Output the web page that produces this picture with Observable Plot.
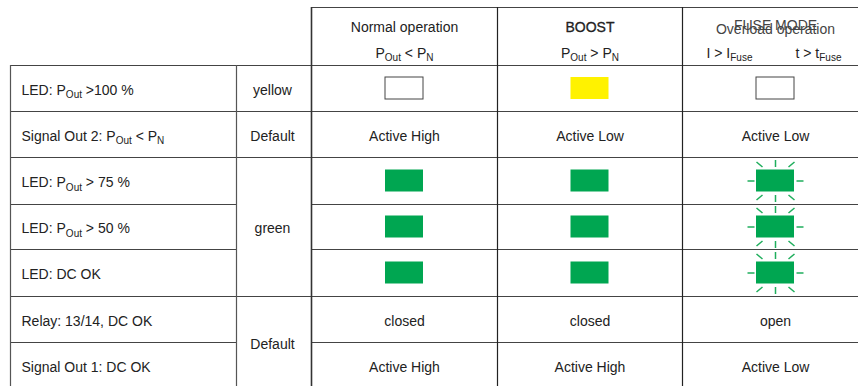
<!DOCTYPE html>
<html>
<head>
<meta charset="utf-8">
<script src="https://cdn.jsdelivr.net/npm/d3@7"></script>
<script src="https://cdn.jsdelivr.net/npm/@observablehq/plot@0.6"></script>
<style>
  html, body { margin: 0; padding: 0; background: #fff; }
  #chart svg { display: block; }
</style>
</head>
<body>
<div id="chart"></div>
<script>
// ---------- data ----------
const rowLabels = [
  "LED: P_{Out} >100 %",
  "Signal Out 2: P_{Out} < P_{N}",
  "LED: P_{Out} > 75 %",
  "LED: P_{Out} > 50 %",
  "LED: DC OK",
  "Relay: 13/14, DC OK",
  "Signal Out 1: DC OK"
];
const groupNames = ["yellow", "Default", "green", "Default"];
const groupStart = [0, 1, 2, 5];
const groupEnd = [0, 1, 4, 6];

const modes = ["Normal operation", "BOOST", "FUSE MODE"];
const modeConditions = ["P_{Out} < P_{N}", "P_{Out} > P_{N}"];
const fuseConditions = ["I > I_{Fuse}", "t > t_{Fuse}"];
const overloadLabel = "Overload operation";

const normalStates = ["off", "Active High", "green", "green", "green", "closed", "Active High"];
const boostStates  = ["yellow", "Active Low", "green", "green", "green", "closed", "Active High"];
const fuseStates   = ["off", "Active Low", "blink", "blink", "blink", "open", "Active Low"];

// ---------- layout (code, not data) ----------
const colEdges = [10, 236, 311, 497, 682, 868];          // label | colour | 3 modes
const rowEdges = [65, 111, 157, 204, 249, 296, 342, 388]; // body rows
const headTop = 7;
const cx = c => (colEdges[c] + colEdges[c + 1]) / 2;
const cy = r => (rowEdges[r] + rowEdges[r + 1]) / 2;
const BW = 19, BH = 11; // LED half sizes

// ---------- derived tables ----------
const stateCols = [normalStates, boostStates, fuseStates];
const cells = stateCols.flatMap((col, j) => col.map((s, i) => ({col: j + 2, row: i, state: s})));
const ledStates = new Set(["off", "yellow", "green", "blink"]);
const textCells = cells.filter(d => !ledStates.has(d.state));
const ledCells = cells.filter(d => ledStates.has(d.state));

const rayOffsets = [
  [0, -21, 0, -14], [0, 14, 0, 21], [-28, 0, -21, 0], [21, 0, 28, 0],
  [-19, -19, -13, -14], [13, -14, 19, -19], [-13, 14, -19, 19], [13, 14, 19, 19]
];
const rays = cells.filter(d => d.state === "blink")
  .flatMap(d => rayOffsets.map(o => ({
    x1: cx(d.col) + o[0], y1: cy(d.row) + o[1],
    x2: cx(d.col) + o[2], y2: cy(d.row) + o[3]
  })));

const nRows = rowLabels.length;
const vLines = [
  {x: colEdges[0], y1: rowEdges[0], w: 1.2, c: "#555"},
  {x: colEdges[1], y1: rowEdges[0], w: 1.2, c: "#555"},
  {x: colEdges[2], y1: headTop, w: 1.6, c: "#333"},
  {x: colEdges[3], y1: headTop, w: 1.2, c: "#222"},
  {x: colEdges[4], y1: headTop, w: 1.2, c: "#222"}
];
const hLines = [{y: headTop, x1: colEdges[2], x2: colEdges[5]}];
for (let r = 0; r < nRows; r++) {
  const inside = groupStart.some((s, g) => r > s && r <= groupEnd[g]);
  if (inside) {
    hLines.push({y: rowEdges[r], x1: colEdges[0], x2: colEdges[1]});
    hLines.push({y: rowEdges[r], x1: colEdges[2], x2: colEdges[5]});
  } else hLines.push({y: rowEdges[r], x1: colEdges[0], x2: colEdges[5]});
}

const FONT = "'Liberation Sans', Arial, Helvetica, sans-serif";
const TXT = "#222";
const GREEN = "#00a651";
const headY1 = 27, headY2 = 53;

const chart = Plot.plot({
  width: 858,
  height: 386,
  margin: 0,
  x: {domain: [0, 858], range: [0, 858], axis: null},
  y: {domain: [0, 386], range: [0, 386], axis: null},
  style: {fontFamily: FONT, fontSize: "14px", background: "#fff", overflow: "hidden"},
  marks: [
    Plot.rect(ledCells, {
      x1: d => cx(d.col) - BW, x2: d => cx(d.col) + BW,
      y1: d => cy(d.row) - BH, y2: d => cy(d.row) + BH,
      fill: d => d.state === "off" ? "#fff" : d.state === "yellow" ? "#fff200" : GREEN,
      stroke: d => d.state === "off" ? "#444" : "none",
      strokeWidth: 1
    }),
    Plot.link(rays, {x1: "x1", y1: "y1", x2: "x2", y2: "y2", stroke: "#1fae5c", strokeWidth: 1.5}),
    Plot.ruleY(hLines, {y: "y", x1: "x1", x2: "x2", stroke: "#444", strokeWidth: 1.2}),
    Plot.ruleX(vLines, {x: "x", y1: "y1", y2: rowEdges[nRows], stroke: d => d.c, strokeWidth: d => d.w}),
    Plot.text(rowLabels, {x: colEdges[0] + 11, y: (d, i) => cy(i), text: d => d, textAnchor: "start", fontSize: 14, fill: TXT, dy: 2}),
    Plot.text(groupNames, {x: cx(1) - 1.5, y: (d, i) => (rowEdges[groupStart[i]] + rowEdges[groupEnd[i] + 1]) / 2, text: d => d, fontSize: 14, fill: TXT, dy: 2}),
    Plot.text(textCells, {x: d => cx(d.col), y: d => cy(d.row), text: "state", fontSize: 14, fill: TXT, dy: 2}),
    Plot.text(modes.slice(0, 2), {x: (d, i) => cx(i + 2), y: headY1, text: d => d, fontSize: 14, fill: TXT,
      stroke: (d, i) => i === 1 ? TXT : "none", strokeWidth: 0.3}),
    Plot.text([modes[2]], {x: cx(4), y: headY1 - 2, text: d => d, fontSize: 14, fill: "#444"}),
    Plot.text([overloadLabel], {x: cx(4), y: headY1 + 2, text: d => d, fontSize: 14, fill: "#444"}),
    Plot.text(modeConditions, {x: (d, i) => cx(i + 2), y: headY2, text: d => d, fontSize: 14, fill: TXT}),
    Plot.text(fuseConditions, {x: (d, i) => [729, 818][i], y: headY2, text: d => d, fontSize: 14, fill: TXT})
  ]
});

// render "_{...}" as real subscripts
const NS = "http://www.w3.org/2000/svg";
chart.querySelectorAll("text").forEach(t => {
  const s = t.textContent;
  if (!s.includes("_{")) return;
  while (t.firstChild) t.removeChild(t.firstChild);
  const re = /_\{([^}]*)\}/g;
  let last = 0, m, shifted = false;
  const addNormal = str => {
    const ts = document.createElementNS(NS, "tspan");
    ts.textContent = str;
    if (shifted) { ts.setAttribute("dy", "-3.5"); shifted = false; }
    t.appendChild(ts);
  };
  while ((m = re.exec(s))) {
    if (m.index > last) addNormal(s.slice(last, m.index));
    const sub = document.createElementNS(NS, "tspan");
    sub.textContent = m[1];
    sub.setAttribute("font-size", "10");
    if (!shifted) { sub.setAttribute("dy", "3.5"); shifted = true; }
    t.appendChild(sub);
    last = re.lastIndex;
  }
  if (last < s.length) addNormal(s.slice(last));
});

document.getElementById("chart").appendChild(chart);
</script>
</body>
</html>
